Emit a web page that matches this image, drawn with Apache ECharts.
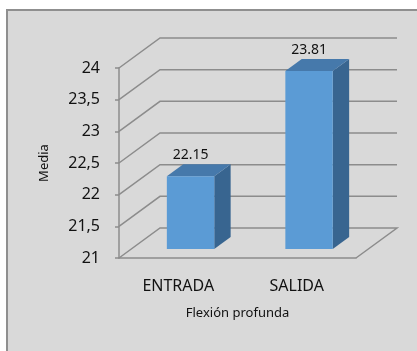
<!DOCTYPE html>
<html>
<head>
<meta charset="utf-8">
<script src="https://cdn.jsdelivr.net/npm/echarts@6/dist/echarts.min.js"></script>
<style>
  html, body { margin: 0; padding: 0; background: #fff; }
  #chart { width: 417px; height: 351px; }
</style>
</head>
<body>
<div id="chart"></div>
<script>
// datos
const categories = ['ENTRADA', 'SALIDA']
const values = [22.15, 23.81]
const yTicks = [21, 21.5, 22, 22.5, 23, 23.5, 24]
const yMin = 21
const yMax = 24

// profundidad del efecto 3D (px)
const DX = 41
const DY = -30
const lineColor = '#8c8c8c'
const font = 'Noto Sans'

const myChart = echarts.init(document.getElementById('chart'))

// pared del fondo + lineas diagonales
function renderWall(params, api) {
  const cs = params.coordSys
  const v = api.value(1)
  const y = api.coord([0, v])[1]
  const x0 = cs.x
  const pts = [[x0, y], [x0 + DX, y + DY], [x0 + cs.width + DX, y + DY]]
  if (v === yMin) pts.push([x0 + cs.width, y])
  return {
    type: 'polyline',
    shape: { points: pts },
    style: { stroke: lineColor, lineWidth: 1.5, fill: null },
  }
}

// barra 3D
function renderBar(params, api) {
  const i = api.value(0)
  const v = api.value(1)
  const top = api.coord([i, v])
  const base = api.coord([i, yMin])
  const band = api.size([1, 0])[0]
  const bw = band * 0.4
  const f0 = 0.3
  const f1 = 0.7
  const x0 = top[0] - bw / 2 + f0 * DX
  const x1 = x0 + bw
  const yt = top[1] + f0 * DY
  const yb = base[1] + f0 * DY
  const ddx = (f1 - f0) * DX
  const ddy = (f1 - f0) * DY
  return {
    type: 'group',
    children: [
      {
        type: 'polygon',
        shape: { points: [[x1, yt], [x1 + ddx, yt + ddy], [x1 + ddx, yb + ddy], [x1, yb]] },
        style: { fill: '#386590' },
      },
      {
        type: 'polygon',
        shape: { points: [[x0, yt], [x1, yt], [x1 + ddx, yt + ddy], [x0 + ddx, yt + ddy]] },
        style: { fill: '#4679ab' },
      },
      {
        type: 'rect',
        shape: { x: x0, y: yt, width: bw, height: yb - yt },
        style: { fill: '#5b9bd5' },
      },
      {
        type: 'text',
        style: {
          x: x0 + bw / 2,
          y: yt + ddy - 9,
          text: v.toFixed(2),
          align: 'center',
          verticalAlign: 'middle',
          fill: '#111',
          font: '14px "' + font + '"',
        },
      },
    ],
  }
}

const option = {
  backgroundColor: '#ffffff',
  animation: false,
  graphic: [
    {
      type: 'rect',
      z: -10,
      silent: true,
      shape: { x: 7, y: 10, width: 430, height: 360 },
      style: { fill: '#d9d9d9', stroke: '#8f8f8f', lineWidth: 2 },
    },
  ],
  grid: {
    left: 119,
    top: 68,
    width: 237,
    height: 190,
  },
  xAxis: {
    type: 'category',
    data: categories,
    name: 'Flexión profunda',
    nameLocation: 'middle',
    nameGap: 49,
    nameTextStyle: { fontFamily: font, fontSize: 13, color: '#111' },
    axisLine: { lineStyle: { color: lineColor, width: 1.5 } },
    axisTick: { show: false },
    axisLabel: { fontFamily: font, fontSize: 16, color: '#111', margin: 20 },
    splitLine: { show: false },
  },
  yAxis: {
    type: 'value',
    min: yMin,
    max: yMax,
    interval: 0.5,
    name: 'Media',
    nameLocation: 'middle',
    nameRotate: 90,
    nameGap: 68,
    nameTextStyle: { fontFamily: font, fontSize: 13, color: '#111' },
    axisLine: { show: true, lineStyle: { color: lineColor, width: 1.5 } },
    axisTick: { show: true, length: 4, lineStyle: { color: lineColor, width: 1.5 } },
    axisLabel: {
      fontFamily: font,
      fontSize: 16,
      color: '#111',
      margin: 19,
      formatter: (v) => String(v).replace('.', ','),
    },
    splitLine: { show: false },
  },
  series: [
    {
      type: 'custom',
      clip: false,
      z: 1,
      silent: true,
      renderItem: renderWall,
      data: yTicks.map((t) => [0, t]),
    },
    {
      type: 'custom',
      clip: false,
      z: 3,
      renderItem: renderBar,
      data: values.map((v, i) => [i, v]),
    },
  ],
}

myChart.setOption(option)
</script>
</body>
</html>
